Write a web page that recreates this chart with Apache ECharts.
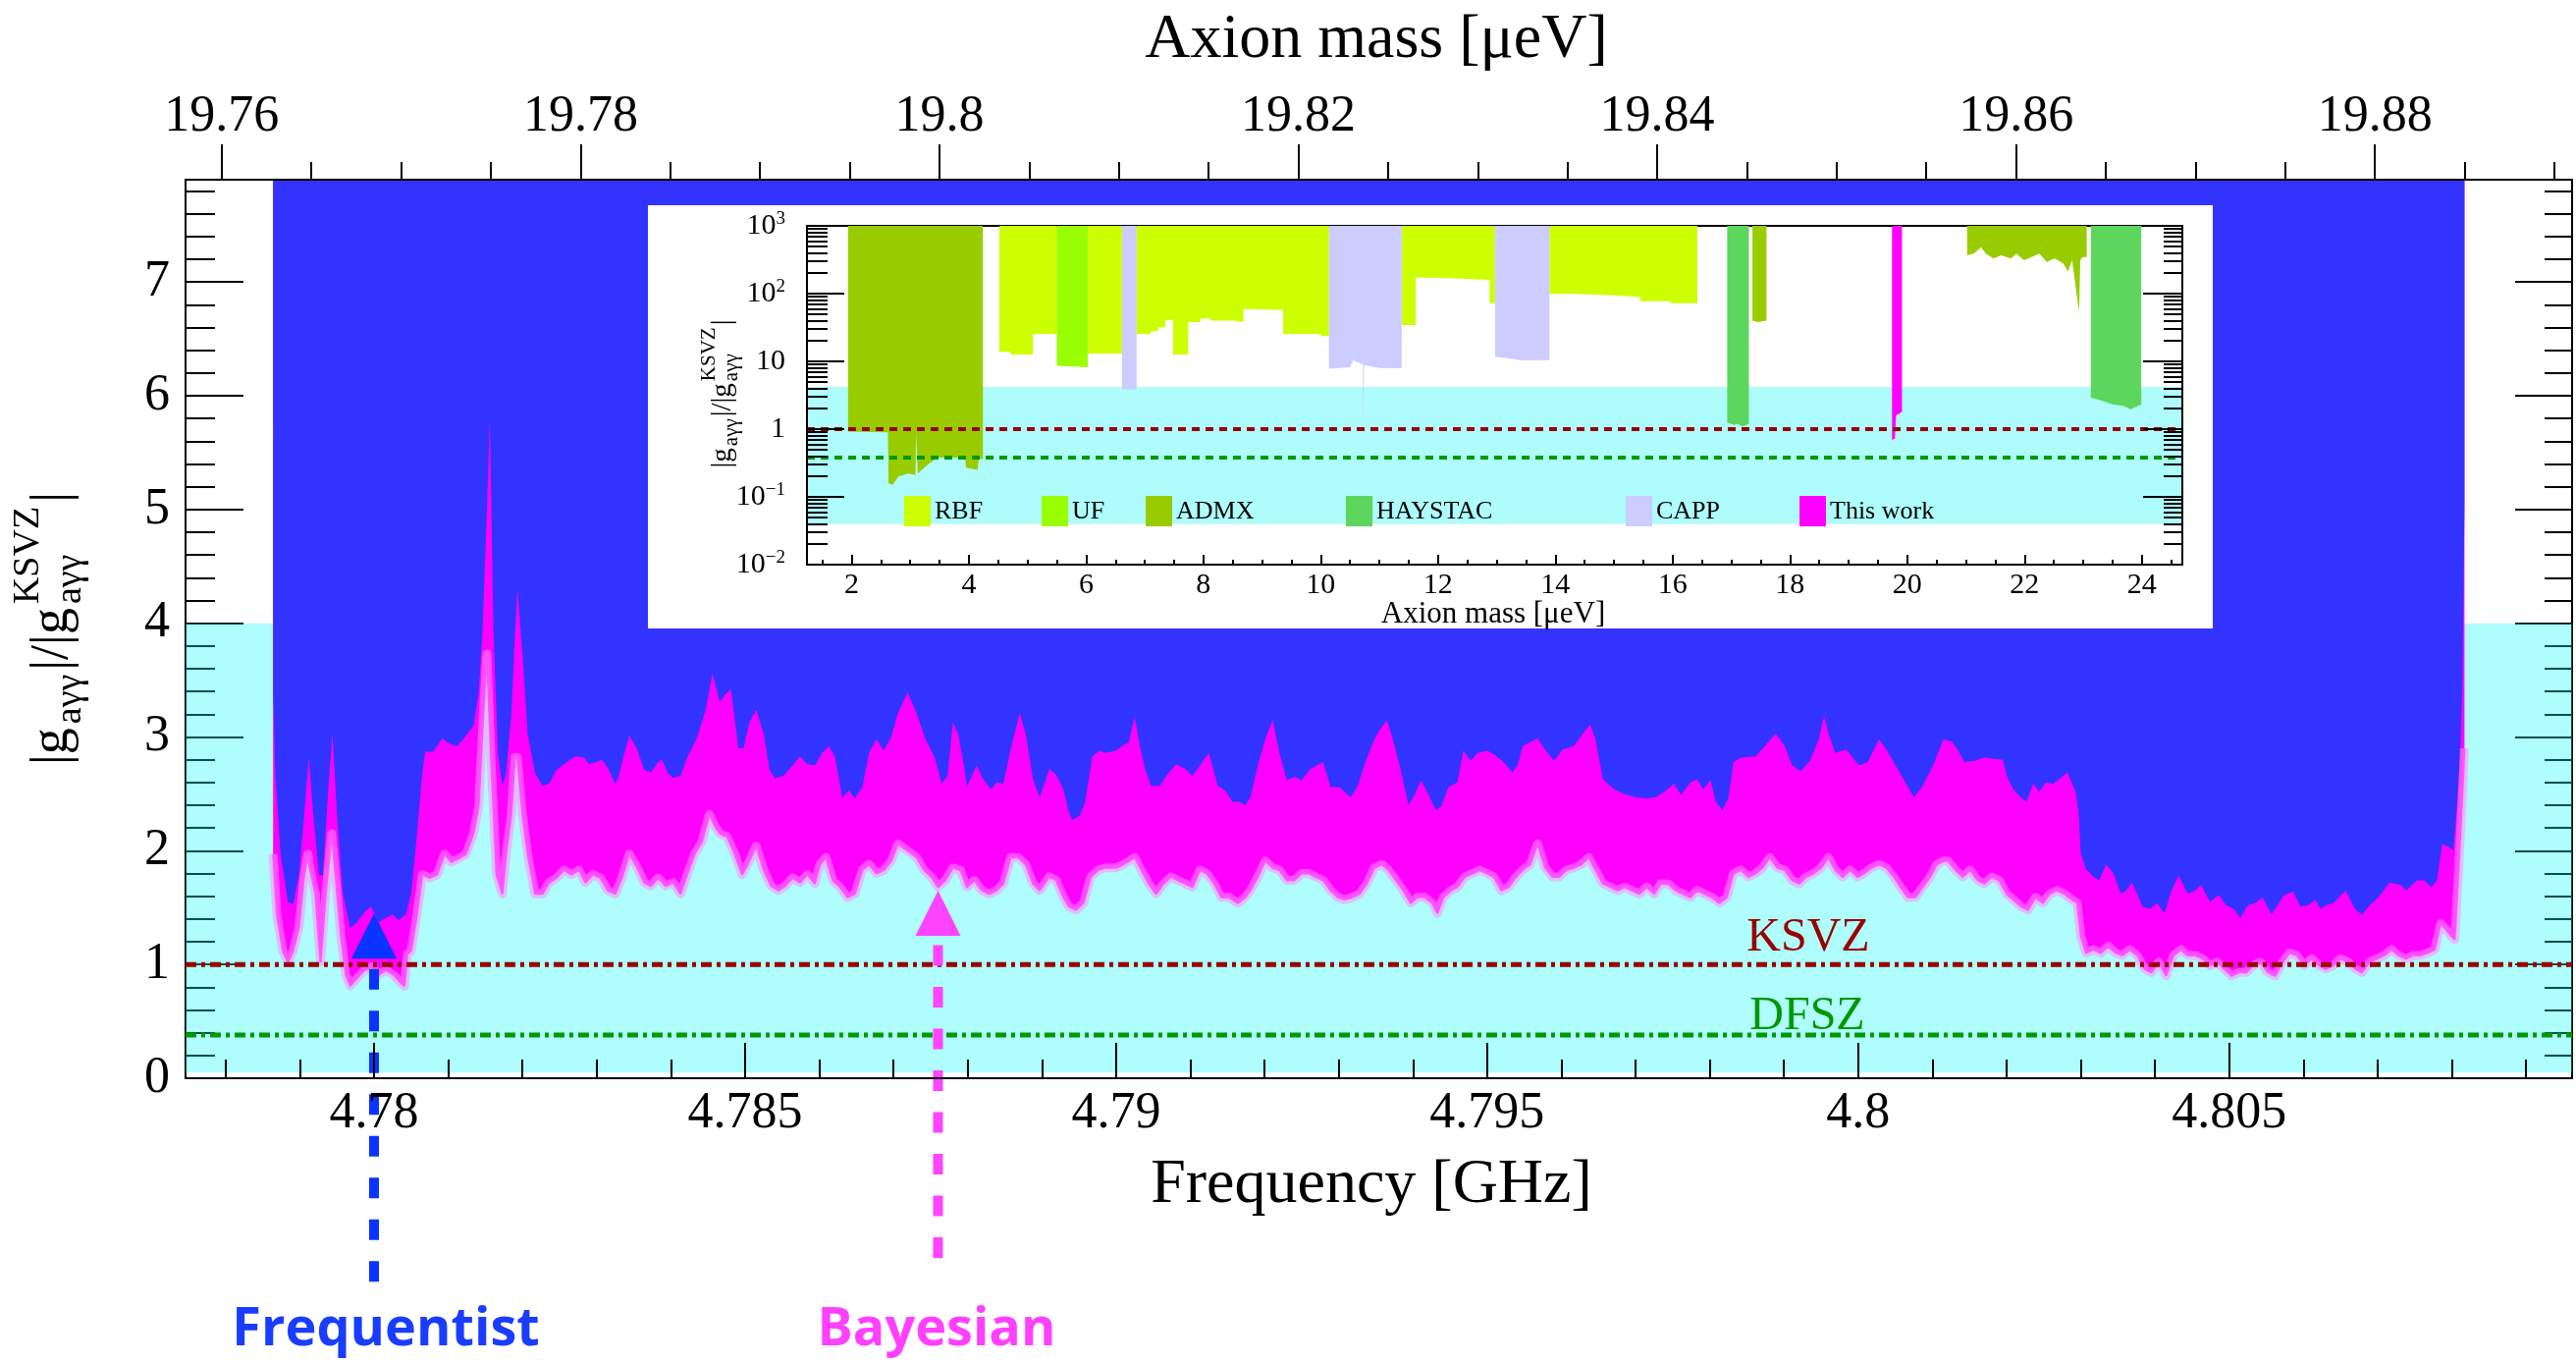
<!DOCTYPE html>
<html>
<head>
<meta charset="utf-8">
<script src="https://cdn.jsdelivr.net/npm/echarts@6/dist/echarts.min.js"></script>
<style>
html,body{margin:0;padding:0;background:#fff;}
#chart{width:2624px;height:1388px;}
</style>
</head>
<body>
<div id="chart"></div>
<script>
// ---------- axes ----------
const H_UEV_PER_GHZ = 4.135667;          // axion mass [μeV] per photon frequency [GHz]
const FREQ_MIN = 4.77746, FREQ_MAX = 4.80962;
const G_MAX = 7.9;
const freqTicks = [4.78, 4.785, 4.79, 4.795, 4.8, 4.805];
const massTicks = [19.76, 19.78, 19.80, 19.82, 19.84, 19.86, 19.88];
const gTicks = [0, 1, 2, 3, 4, 5, 6, 7];
const KSVZ = 1.0, DFSZ = 0.38;

// ---------- exclusion limits of this scan, |g|/|g_KSVZ| vs frequency [GHz] ----------
// frequentist limit: lower edge of the blue excluded region
const frequentistLimit = [
[4.77864,3.38],[4.77867,2.68],[4.77874,1.97],[4.77884,1.55],[4.77891,1.53],[4.77899,1.79],[4.77906,2.32],[4.77912,2.82],[4.77918,2.32],[4.77926,1.79],
[4.77931,1.78],[4.77938,2.50],[4.77944,3.03],[4.77950,2.32],[4.77958,1.62],[4.77968,1.32],[4.77977,1.37],[4.77987,1.46],[4.77996,1.51],[4.78006,1.37],
[4.78016,1.41],[4.78025,1.44],[4.78033,1.39],[4.78043,1.44],[4.78050,1.62],[4.78058,2.15],[4.78065,2.68],[4.78069,2.87],[4.78080,2.87],[4.78092,2.99],
[4.78102,2.94],[4.78112,2.92],[4.78124,3.01],[4.78134,3.10],[4.78141,3.38],[4.78146,3.91],[4.78152,4.97],[4.78156,5.79],[4.78161,3.91],[4.78167,2.85],
[4.78173,2.57],[4.78178,2.68],[4.78185,3.20],[4.78190,3.91],[4.78193,4.30],[4.78200,3.73],[4.78207,3.03],[4.78217,2.68],[4.78227,2.57],[4.78236,2.59],
[4.78246,2.71],[4.78256,2.76],[4.78271,2.83],[4.78283,2.82],[4.78290,2.76],[4.78300,2.78],[4.78307,2.80],[4.78315,2.73],[4.78325,2.59],[4.78329,2.64],
[4.78337,2.85],[4.78344,3.01],[4.78354,2.90],[4.78364,2.71],[4.78373,2.69],[4.78383,2.78],[4.78388,2.80],[4.78396,2.68],[4.78403,2.64],[4.78413,2.66],
[4.78422,2.82],[4.78435,2.99],[4.78447,3.24],[4.78456,3.56],[4.78466,3.31],[4.78474,3.38],[4.78481,3.42],[4.78491,2.90],[4.78498,2.90],[4.78506,3.13],
[4.78515,3.24],[4.78525,3.03],[4.78533,2.71],[4.78540,2.64],[4.78552,2.66],[4.78564,2.75],[4.78574,2.83],[4.78584,2.76],
[4.78594,2.75],[4.78604,2.86],[4.78613,2.92],[4.78621,2.83],[4.78631,2.47],[4.78640,2.53],[4.78648,2.46],[4.78658,2.56],[4.78667,2.86],[4.78677,2.98],
[4.78687,2.88],[4.78697,3.00],[4.78706,3.21],[4.78719,3.39],[4.78731,3.21],[4.78743,2.98],[4.78755,2.83],[4.78765,2.59],[4.78773,2.66],[4.78780,3.13],
[4.78787,3.03],[4.78795,2.75],[4.78799,2.56],[4.78812,2.75],[4.78821,2.63],[4.78831,2.54],[4.78839,2.60],[4.78848,2.59],[4.78858,2.89],[4.78870,3.21],
[4.78878,3.03],[4.78888,2.63],[4.78897,2.47],[4.78910,2.72],[4.78919,2.67],[4.78929,2.54],[4.78936,2.34],[4.78941,2.27],[4.78951,2.31],[4.78958,2.42],
[4.78968,2.83],[4.78978,2.88],[4.78985,2.86],[4.79000,2.88],[4.79010,2.93],[4.79017,2.95],[4.79025,3.18],[4.79032,2.92],[4.79039,2.72],[4.79047,2.57],
[4.79059,2.57],[4.79069,2.67],[4.79081,2.76],[4.79093,2.72],[4.79103,2.66],[4.79113,2.75],[4.79125,2.86],[4.79137,2.57],[4.79147,2.53],[4.79157,2.43],
[4.79166,2.43],[4.79174,2.40],[4.79181,2.47],[4.79191,2.75],[4.79201,2.98],[4.79211,3.15],[4.79220,2.86],[4.79230,2.62],[4.79240,2.65],[4.79250,2.62],
[4.79262,2.72],[4.79279,2.78],[4.79289,2.56],[4.79301,2.56],[4.79316,2.47],[4.79325,2.56],[4.79335,2.76],
[4.79348,2.98],[4.79355,3.06],[4.79365,3.15],[4.79372,3.00],[4.79382,2.75],[4.79394,2.40],[4.79402,2.49],[4.79411,2.62],[4.79421,2.49],[4.79431,2.36],
[4.79438,2.39],[4.79448,2.56],[4.79460,2.60],[4.79468,2.88],[4.79478,2.79],[4.79487,2.86],[4.79500,2.88],[4.79509,2.85],[4.79522,2.78],[4.79534,2.69],
[4.79541,2.75],[4.79548,2.92],[4.79568,2.99],[4.79578,2.89],[4.79590,2.79],[4.79602,2.89],[4.79617,2.92],[4.79629,3.03],[4.79639,3.11],[4.79646,2.98],
[4.79656,2.63],[4.79671,2.54],[4.79685,2.50],[4.79700,2.47],[4.79715,2.46],[4.79727,2.47],[4.79739,2.52],[4.79752,2.59],[4.79761,2.49],[4.79774,2.60],
[4.79783,2.63],[4.79791,2.54],[4.79801,2.62],[4.79808,2.43],[4.79817,2.36],[4.79825,2.46],[4.79832,2.78],[4.79842,2.82],[4.79862,2.83],[4.79874,2.92],
[4.79889,3.03],[4.79901,2.92],[4.79911,2.75],[4.79923,2.70],[4.79935,2.79],[4.79947,2.98],[4.79954,3.19],[4.79960,3.03],[4.79969,2.86],[4.79984,2.89],
[4.80001,2.75],[4.80013,2.78],[4.80028,2.98],[4.80038,2.89],[4.80053,2.72],[4.80062,2.62],[4.80075,2.47],[4.80087,2.57],[4.80101,2.75],[4.80115,2.98],
[4.80126,2.96],[4.80134,2.89],[4.80143,2.78],[4.80156,2.79],[4.80170,2.82],[4.80195,2.80],[4.80200,2.66],[4.80209,2.54],[4.80219,2.47],[4.80227,2.43],
[4.80236,2.59],[4.80244,2.52],[4.80253,2.60],[4.80263,2.59],[4.80271,2.63],[4.80282,2.69],[4.80293,2.52],[4.80297,2.34],[4.80300,1.97],[4.80307,1.84],
[4.80317,1.77],[4.80325,1.74],[4.80334,1.88],[4.80344,1.80],[4.80354,1.62],[4.80361,1.65],[4.80369,1.72],[4.80376,1.62],[4.80383,1.51],[4.80393,1.49],
[4.80403,1.54],[4.80413,1.45],[4.80422,1.65],[4.80432,1.78],[4.80444,1.62],[4.80454,1.65],[4.80462,1.70],[4.80474,1.55],[4.80486,1.61],[4.80496,1.52],
[4.80506,1.49],[4.80515,1.41],[4.80525,1.52],[4.80535,1.54],[4.80545,1.59],[4.80557,1.44],[4.80574,1.61],[4.80586,1.64],[4.80596,1.51],[4.80606,1.52],
[4.80616,1.57],[4.80623,1.49],[4.80630,1.52],[4.80640,1.54],[4.80657,1.65],[4.80670,1.48],[4.80679,1.44],[4.80689,1.52],[4.80701,1.59],[4.80716,1.72],
[4.80731,1.70],[4.80738,1.65],[4.80753,1.74],[4.80763,1.74],[4.80772,1.68],[4.80780,1.74],[4.80787,2.06],[4.80797,2.03],[4.80802,2.00],[4.80807,2.40],
[4.80811,2.78],[4.80814,3.41],[4.80817,5.05]
];
// Bayesian limit: lower edge of the magenta band
const bayesianLimit = [
[4.77864,1.97],[4.77869,1.44],[4.77877,1.12],[4.77884,1.02],[4.77891,1.12],[4.77899,1.33],[4.77906,1.79],[4.77911,1.97],[4.77913,1.86],[4.77921,1.62],
[4.77928,1.02],[4.77935,1.62],[4.77943,2.15],[4.77948,1.79],[4.77955,1.27],[4.77962,0.91],[4.77968,0.81],[4.77977,0.88],[4.77987,0.95],[4.77997,0.98],
[4.78006,0.91],[4.78016,0.95],[4.78026,0.91],[4.78036,0.84],[4.78041,0.81],[4.78045,1.09],[4.78050,1.12],[4.78058,1.44],[4.78065,1.79],[4.78075,1.76],
[4.78085,1.79],[4.78095,1.97],[4.78104,1.90],[4.78114,1.93],[4.78124,1.97],[4.78134,2.15],[4.78141,2.39],[4.78146,3.03],[4.78152,3.73],[4.78158,2.75],
[4.78165,1.79],[4.78173,1.62],[4.78178,1.97],[4.78185,2.32],[4.78190,2.82],[4.78193,2.82],[4.78200,2.32],[4.78207,1.97],[4.78217,1.62],[4.78227,1.62],
[4.78236,1.72],[4.78246,1.76],[4.78256,1.83],[4.78266,1.79],[4.78276,1.83],[4.78285,1.72],[4.78295,1.79],[4.78305,1.76],[4.78315,1.65],[4.78325,1.62],
[4.78334,1.76],[4.78344,1.97],[4.78354,1.86],[4.78364,1.72],[4.78373,1.69],[4.78383,1.76],[4.78393,1.69],[4.78403,1.72],[4.78413,1.62],[4.78422,1.79],
[4.78432,1.97],[4.78442,2.08],[4.78452,2.32],[4.78459,2.22],[4.78466,2.15],[4.78476,2.12],[4.78486,1.97],[4.78496,1.79],[4.78505,1.90],[4.78515,2.04],
[4.78525,1.83],[4.78535,1.69],[4.78545,1.65],[4.78554,1.69],[4.78564,1.76],[4.78574,1.72],[4.78584,1.79],
[4.78594,1.71],[4.78601,1.88],[4.78609,1.94],[4.78618,1.74],[4.78628,1.68],[4.78638,1.59],[4.78648,1.62],[4.78658,1.83],[4.78667,1.88],[4.78677,1.80],
[4.78687,1.83],[4.78697,1.91],[4.78706,2.06],[4.78719,2.00],[4.78731,1.94],[4.78741,1.83],[4.78751,1.77],[4.78760,1.68],[4.78770,1.74],[4.78780,1.85],
[4.78790,1.83],[4.78799,1.68],[4.78809,1.74],[4.78819,1.65],[4.78829,1.62],[4.78839,1.65],[4.78848,1.71],[4.78858,1.94],[4.78868,1.94],[4.78878,1.88],
[4.78888,1.71],[4.78897,1.65],[4.78910,1.77],[4.78919,1.74],[4.78929,1.59],[4.78936,1.51],[4.78946,1.48],[4.78956,1.54],[4.78966,1.77],[4.78976,1.83],
[4.78985,1.85],[4.79000,1.85],[4.79010,1.88],[4.79025,1.94],[4.79034,1.83],[4.79044,1.71],[4.79054,1.62],[4.79064,1.71],[4.79074,1.77],[4.79083,1.74],
[4.79093,1.71],[4.79103,1.68],[4.79113,1.83],[4.79122,1.80],[4.79132,1.71],[4.79142,1.59],[4.79152,1.59],[4.79164,1.54],[4.79174,1.59],[4.79181,1.65],
[4.79191,1.77],[4.79201,1.91],[4.79211,1.85],[4.79220,1.83],[4.79230,1.74],[4.79240,1.74],[4.79250,1.80],[4.79260,1.80],[4.79269,1.77],[4.79279,1.74],
[4.79289,1.65],[4.79299,1.59],[4.79308,1.57],[4.79318,1.59],[4.79328,1.62],[4.79338,1.71],
[4.79348,1.85],[4.79358,1.88],[4.79367,1.83],[4.79377,1.74],[4.79387,1.65],[4.79397,1.54],[4.79406,1.59],[4.79416,1.59],[4.79426,1.54],[4.79433,1.45],
[4.79441,1.59],[4.79451,1.65],[4.79460,1.68],[4.79470,1.77],[4.79480,1.80],[4.79490,1.83],[4.79500,1.80],[4.79509,1.77],[4.79519,1.65],[4.79529,1.68],
[4.79539,1.77],[4.79548,1.83],[4.79558,1.88],[4.79568,2.06],[4.79578,1.85],[4.79588,1.77],[4.79597,1.77],[4.79607,1.83],[4.79617,1.85],[4.79627,1.88],
[4.79637,1.94],[4.79646,1.83],[4.79656,1.71],[4.79666,1.68],[4.79676,1.65],[4.79685,1.68],[4.79695,1.65],[4.79705,1.62],[4.79715,1.68],[4.79725,1.62],
[4.79734,1.71],[4.79744,1.71],[4.79754,1.65],[4.79764,1.62],[4.79774,1.59],[4.79783,1.65],[4.79793,1.62],[4.79803,1.59],[4.79813,1.54],[4.79823,1.59],
[4.79832,1.80],[4.79842,1.83],[4.79852,1.77],[4.79862,1.80],[4.79871,1.85],[4.79881,1.94],[4.79891,1.85],[4.79901,1.83],[4.79911,1.74],[4.79920,1.71],
[4.79930,1.77],[4.79940,1.80],[4.79950,1.85],[4.79960,1.94],[4.79969,1.83],[4.79979,1.77],[4.79989,1.83],[4.79999,1.77],[4.80008,1.80],[4.80018,1.85],
[4.80028,1.88],[4.80038,1.85],[4.80048,1.77],[4.80057,1.68],[4.80067,1.59],[4.80077,1.59],[4.80087,1.68],[4.80097,1.77],[4.80106,1.88],[4.80115,1.91],
[4.80121,1.91],[4.80131,1.83],[4.80141,1.77],[4.80151,1.83],[4.80161,1.74],[4.80170,1.71],[4.80180,1.77],[4.80190,1.74],[4.80200,1.62],[4.80209,1.57],
[4.80219,1.51],[4.80229,1.48],[4.80239,1.59],[4.80249,1.54],[4.80258,1.62],[4.80268,1.65],[4.80278,1.62],[4.80288,1.57],[4.80295,1.54],[4.80300,1.25],
[4.80307,1.10],[4.80317,1.13],[4.80327,1.10],[4.80337,1.16],[4.80347,1.10],[4.80356,1.08],[4.80366,1.13],[4.80376,1.08],[4.80386,0.96],[4.80395,0.93],
[4.80405,1.02],[4.80415,0.90],[4.80425,1.08],[4.80435,1.13],[4.80444,1.08],[4.80454,1.08],[4.80464,1.05],[4.80474,0.99],[4.80484,1.02],[4.80493,0.96],
[4.80503,0.90],[4.80513,0.93],[4.80523,0.93],[4.80532,0.99],[4.80542,1.02],[4.80552,0.93],[4.80562,0.90],[4.80572,1.02],[4.80581,1.10],[4.80591,1.08],
[4.80601,0.99],[4.80611,1.05],[4.80621,0.99],[4.80630,0.96],[4.80640,0.99],[4.80650,1.05],[4.80660,1.02],[4.80670,0.96],[4.80679,0.93],[4.80689,1.02],
[4.80699,1.05],[4.80709,1.08],[4.80719,1.13],[4.80728,1.08],[4.80738,1.05],[4.80748,1.08],[4.80758,1.08],[4.80767,1.10],[4.80777,1.13],[4.80785,1.36],
[4.80792,1.31],[4.80799,1.25],[4.80804,1.22],[4.80809,1.83],[4.80812,2.20],[4.80815,2.60],[4.80817,2.90]
];
// band of plausible axion models shaded behind the limits
const modelBand = [0.05, 4.0];

// arrows marking the two limits
const arrowMarks = [
  { name: 'Frequentist', freq: 4.7800, head: 1.25, shaftTop: 0.96, shaftBottom: -1.80, color: '#0a33ff' },
  { name: 'Bayesian',    freq: 4.7876, head: 1.45, shaftTop: 1.17, shaftBottom: -1.60, color: '#ff44ff' }
];

// ---------- inset: world exclusion limits, |g|/|g_KSVZ| vs axion mass [μeV] ----------
const INSET_MASS_MIN = 1.24, INSET_MASS_MAX = 24.69;
const insetMassTicks = [2, 4, 6, 8, 10, 12, 14, 16, 18, 20, 22, 24];
const insetLogTicks = [0.01, 0.1, 1, 10, 100, 1000];
const insetBand = [0.04, 4.2];
const rbfBlocks = [
  [[4.52,13.8],[4.71,13.8],[4.71,12.6],[5.09,12.6],[5.09,25.5],[5.50,25.5]],
  [[6.03,13.1],[6.61,13.1]],
  [[6.86,25.5],[7.10,25.5],[7.10,28],[7.23,28],[7.23,32],[7.35,32],[7.35,41],[7.48,41],[7.48,12.6],[7.74,12.6],[7.74,38],[7.95,38],
   [7.95,43],[8.12,43],[8.12,40],[8.51,40],[8.51,38],[8.68,38],[8.68,59],[8.80,59],[8.80,57],[9.36,57],[9.36,25.5],[10.0,25.5],[10.0,23.6],[10.14,23.6]],
  [[11.38,34.5],[11.62,34.5],[11.62,174],[12.20,169],[12.88,160],[12.88,72],[12.97,72]],
  [[13.90,99],[14.33,99],[14.33,94],[15.02,94],[15.02,89],[15.45,89],[15.45,77],[15.97,77],[15.97,72],[16.42,72]]
];
const ufBlocks = [
  [[5.50,8.6],[5.80,8.4],[6.03,8.2]]
];
const admxBlocks = [
  [[1.94,0.92],[2.62,0.90],[2.63,0.16],[2.70,0.15],[2.80,0.20],[2.96,0.22],[3.09,0.21],[3.10,0.90],[3.12,0.90],[3.13,0.22],
   [3.30,0.30],[3.47,0.38],[3.94,0.38],[3.95,0.27],[4.15,0.25],[4.17,0.36],[4.24,0.36]],
  [[17.36,40],[17.45,38],[17.60,40]],
  [[21.02,367],[21.13,388],[21.26,485],[21.34,388],[21.47,329],[21.60,367],[21.77,329],[21.86,388],[21.99,311],[22.12,348],
   [22.25,388],[22.38,294],[22.51,329],[22.66,278],[22.74,211],[22.81,311],[22.90,82],[22.93,55],[22.95,311],[22.99,348],[23.06,348]]
];
const haystacBlocks = [
  [[16.93,1.25],[17.05,1.15],[17.10,1.20],[17.20,1.10],[17.30,1.20]],
  [[23.13,2.9],[23.33,2.6],[23.51,2.3],[23.68,2.2],[23.81,1.97],[23.94,2.2],[23.99,2.3]]
];
const cappBlocks = [
  [[6.61,3.85],[6.86,3.85]],
  [[10.14,7.8],[10.50,8.2],[10.55,10.4],[10.65,9.5],[10.72,9.0],[10.72,1.08],[10.74,1.08],[10.74,8.8],[11.00,8.0],[11.38,7.9]],
  [[12.97,11.7],[13.30,10.8],[13.40,10.4],[13.90,10.4]]
];
const thisWorkBlocks = [
  [[19.74,0.69],[19.79,0.72],[19.81,1.6],[19.91,1.8]]
];
const experiments = [
  { name: 'RBF',       color: '#ccff00', blocks: rbfBlocks,      legendX: 921 },
  { name: 'UF',        color: '#99ff00', blocks: ufBlocks,       legendX: 1061 },
  { name: 'ADMX',      color: '#99cc00', blocks: admxBlocks,     legendX: 1167 },
  { name: 'HAYSTAC',   color: '#5cd65c', blocks: haystacBlocks,  legendX: 1371 },
  { name: 'CAPP',      color: '#ccccff', blocks: cappBlocks,     legendX: 1656 },
  { name: 'This work', color: '#ff00ff', blocks: thisWorkBlocks, legendX: 1833 }
];

// ---------- minor tick positions ----------
const freqMinor = [];
for (let k = 4778; k <= 4809; k++) if (k % 5) freqMinor.push(k / 1000);
const massMinor = [];
for (let k = 19760; k <= 19890; k += 5) if (k % 20) massMinor.push(k / 1000);
const gMinor = [];
for (let k = 1; k < 40; k++) if (k % 5) gMinor.push(+(k * 0.2).toFixed(1));
const insetMassMinor = [];
for (let k = 3; k <= 49; k++) { const m = k / 2; if (m % 2) insetMassMinor.push(m); }
const insetLogMinor = [];
for (let d = -2; d <= 2; d++) for (let k = 2; k <= 9; k++) insetLogMinor.push(+(k * Math.pow(10, d)).toPrecision(3));

// ---------- styling helpers ----------
const SERIF = '"Liberation Serif", "Times New Roman", serif';
const BLACK = '#000';

function xAxisDef(o) {
  return {
    type: 'value', splitLine: { show: false },
    gridIndex: o.grid, position: o.pos, min: o.min, max: o.max, z: o.z, zlevel: o.zlevel || 0,
    axisLine: { show: !!o.line, onZero: false, lineStyle: { color: BLACK, width: 2 } },
    axisTick: { show: !!o.ticks, inside: o.inside, length: o.len, customValues: o.ticks, lineStyle: { color: BLACK, width: 2 } },
    axisLabel: o.labels ? { show: true, customValues: o.labels, formatter: o.fmt, fontFamily: SERIF, fontSize: o.fs, color: BLACK, margin: o.margin } : { show: false }
  };
}
function yAxisDef(o) {
  return {
    type: o.type || 'value', logBase: 10,
    gridIndex: o.grid, position: o.pos, min: o.min, max: o.max, z: o.z, zlevel: o.zlevel || 0,
    splitLine: { show: false },
    axisLine: { show: !!o.line, onZero: false, lineStyle: { color: BLACK, width: 2 } },
    axisTick: { show: true, inside: true, length: o.len, customValues: o.ticks, lineStyle: { color: BLACK, width: 2 } },
    axisLabel: o.labels ? Object.assign({ show: true, customValues: o.labels, formatter: o.fmt, fontFamily: SERIF, fontSize: o.fs, color: BLACK, margin: o.margin }, o.labelExtra || {}) : { show: false }
  };
}

const trimNum = d => v => String(parseFloat(v.toFixed(d)));

// horizontal band drawn through the axis scales
function bandSeries(o) {
  return {
    type: 'custom', xAxisIndex: o.x, yAxisIndex: o.y, z: o.z, zlevel: o.zlevel || 0, silent: true,
    encode: { x: [0, 1], y: [2, 3] },
    data: [[o.x0, o.x1, o.y0, o.y1]],
    renderItem: (params, api) => {
      const a = api.coord([api.value(0), api.value(3)]);
      const b = api.coord([api.value(1), api.value(2)]);
      return { type: 'rect', shape: { x: a[0], y: a[1], width: b[0] - a[0], height: b[1] - a[1] }, style: { fill: o.color } };
    }
  };
}
function hLine(o) {
  return {
    type: 'line', xAxisIndex: o.x, yAxisIndex: o.y, z: o.z, zlevel: o.zlevel || 0, silent: true,
    symbol: 'none', data: [[o.x0, o.v], [o.x1, o.v]],
    lineStyle: { color: o.color, width: o.width, type: o.dash }
  };
}
function fillUp(o) {
  return {
    type: 'line', xAxisIndex: o.x, yAxisIndex: o.y, z: o.z, zlevel: o.zlevel || 0, silent: true,
    symbol: 'none', data: o.data,
    lineStyle: { width: o.lineWidth || 0, color: o.lineColor || o.color, opacity: o.lineWidth ? 1 : 0 },
    areaStyle: { color: o.color, opacity: 1, origin: 'end' }
  };
}

// ---------- formula text (sub/superscripts) laid out along a rotated baseline ----------
const measureCtx = document.createElement('canvas').getContext('2d');
function textWidth(t, size) { measureCtx.font = size + 'px ' + SERIF; return measureCtx.measureText(t).width; }
function formulaGroup(pieces, gap, baseX, centerY, zlevel) {
  const placed = [];
  let x = 0, i = 0;
  while (i < pieces.length) {
    const p = pieces[i];
    if (p.stack) {
      const q = pieces[i + 1];
      placed.push(Object.assign({ x }, p), Object.assign({ x }, q));
      x += Math.max(textWidth(p.t, p.size), textWidth(q.t, q.size)) + gap; i += 2;
    } else {
      placed.push(Object.assign({ x }, p));
      x += textWidth(p.t, p.size) + gap; i += 1;
    }
  }
  const W = x - gap;
  return {
    type: 'group', x: baseX, y: centerY, rotation: Math.PI / 2, zlevel: zlevel || 0, z: 10,
    children: placed.map(p => ({
      type: 'text', x: p.x - W / 2, y: p.dy - 0.34 * p.size, zlevel: zlevel || 0, z: 10,
      style: { text: p.t, font: p.size + 'px ' + SERIF, fill: BLACK, align: 'left', verticalAlign: 'middle', textAlign: 'left', textVerticalAlign: 'middle' }
    }))
  };
}
function label(text, x, y, font, color, zlevel, align) {
  return {
    type: 'text', x, y, zlevel: zlevel || 0, z: 10, silent: true,
    style: { text, font, fill: color, align: align || 'center', verticalAlign: 'middle', textAlign: align || 'center', textVerticalAlign: 'middle' }
  };
}

// ---------- chart ----------
const chart = echarts.init(document.getElementById('chart'), null, { renderer: 'canvas', width: 2624, height: 1388 });

const MAIN = { left: 189, right: 4, top: 183, bottom: 290 };
const INSET = { left: 822, right: 401, top: 230, bottom: 813 };

const xAxes = [
  // main: frequency (bottom) and axion mass (top)
  xAxisDef({ grid: 0, pos: 'bottom', min: FREQ_MIN, max: FREQ_MAX, z: 10, line: true, inside: true, len: 36, ticks: freqTicks, labels: freqTicks, fmt: trimNum(3), fs: 52, margin: 10 }),
  xAxisDef({ grid: 0, pos: 'bottom', min: FREQ_MIN, max: FREQ_MAX, z: 10, inside: true, len: 19, ticks: freqMinor }),
  xAxisDef({ grid: 0, pos: 'top', min: FREQ_MIN * H_UEV_PER_GHZ, max: FREQ_MAX * H_UEV_PER_GHZ, z: 10, line: true, inside: false, len: 36, ticks: massTicks, labels: massTicks, fmt: trimNum(2), fs: 52, margin: 38 }),
  xAxisDef({ grid: 0, pos: 'top', min: FREQ_MIN * H_UEV_PER_GHZ, max: FREQ_MAX * H_UEV_PER_GHZ, z: 10, inside: false, len: 18, ticks: massMinor }),
  // inset: axion mass
  xAxisDef({ grid: 1, pos: 'bottom', min: INSET_MASS_MIN, max: INSET_MASS_MAX, z: 5, zlevel: 1, line: true, inside: true, len: 10, ticks: insetMassTicks, labels: insetMassTicks, fmt: v => String(Math.round(v)), fs: 30, margin: 6 }),
  xAxisDef({ grid: 1, pos: 'bottom', min: INSET_MASS_MIN, max: INSET_MASS_MAX, z: 5, zlevel: 1, inside: true, len: 5, ticks: insetMassMinor }),
  xAxisDef({ grid: 1, pos: 'top', min: INSET_MASS_MIN, max: INSET_MASS_MAX, z: 1, zlevel: 1, line: true })
];

const logFmt = v => {
  const e = Math.round(Math.log10(v));
  if (e === 0) return '{b|1}';
  if (e === 1) return '{b|10}';
  return '{b|10}{s|' + (e < 0 ? '\u2212' + (-e) : e) + '}';
};
const logRich = { rich: { b: { fontFamily: SERIF, fontSize: 30, color: BLACK }, s: { fontFamily: SERIF, fontSize: 19, color: BLACK, verticalAlign: 'top', padding: [0, 0, 14, 0] } } };

const yAxes = [
  yAxisDef({ grid: 0, pos: 'left', min: 0, max: G_MAX, z: 0, line: true, len: 59, ticks: gTicks, labels: gTicks, fmt: v => String(Math.round(v)), fs: 52, margin: 16 }),
  yAxisDef({ grid: 0, pos: 'left', min: 0, max: G_MAX, z: 0, len: 30, ticks: gMinor }),
  yAxisDef({ grid: 0, pos: 'right', min: 0, max: G_MAX, z: 0, line: true, len: 58, ticks: gTicks }),
  yAxisDef({ grid: 0, pos: 'right', min: 0, max: G_MAX, z: 0, len: 28, ticks: gMinor }),
  yAxisDef({ type: 'log', grid: 1, pos: 'left', min: 0.01, max: 1000, z: 5, zlevel: 1, line: true, len: 38, ticks: insetLogTicks, labels: insetLogTicks, fmt: logFmt, margin: 22, labelExtra: logRich }),
  yAxisDef({ type: 'log', grid: 1, pos: 'left', min: 0.01, max: 1000, z: 5, zlevel: 1, len: 21, ticks: insetLogMinor }),
  yAxisDef({ type: 'log', grid: 1, pos: 'right', min: 0.01, max: 1000, z: 5, zlevel: 1, line: true, len: 40, ticks: insetLogTicks }),
  yAxisDef({ type: 'log', grid: 1, pos: 'right', min: 0.01, max: 1000, z: 5, zlevel: 1, len: 19, ticks: insetLogMinor })
];

const series = [
  // main panel
  bandSeries({ x: 0, y: 0, z: 1, x0: FREQ_MIN, x1: FREQ_MAX, y0: modelBand[0], y1: modelBand[1], color: 'rgba(0,248,248,0.315)' }),
  // soft pink fringe along the lower edge of the Bayesian band
  {
    type: 'line', xAxisIndex: 0, yAxisIndex: 0, z: 2, silent: true, symbol: 'none',
    data: bayesianLimit, lineStyle: { color: '#ff8cff', width: 9, opacity: 0.55, join: 'round' }
  },
  fillUp({ x: 0, y: 0, z: 2, data: bayesianLimit, color: '#ff00ff', lineWidth: 2, lineColor: '#ff55ff' }),
  fillUp({ x: 0, y: 0, z: 2, data: frequentistLimit, color: '#3333ff' }),
  hLine({ x: 0, y: 0, z: 4, x0: FREQ_MIN, x1: FREQ_MAX, v: KSVZ, color: '#990000', width: 5, dash: [11, 5, 4, 5] }),
  hLine({ x: 0, y: 0, z: 4, x0: FREQ_MIN, x1: FREQ_MAX, v: DFSZ, color: '#009900', width: 5, dash: [11, 5, 4, 5] })
];
arrowMarks.forEach(a => {
  series.push({
    type: 'line', xAxisIndex: 0, yAxisIndex: 0, z: 6, clip: false, silent: true, symbol: 'none',
    data: [[a.freq, a.shaftTop], [a.freq, a.shaftBottom]],
    lineStyle: { color: a.color, width: 10, type: [21, 21.5], cap: 'butt' }
  });
  series.push({
    type: 'scatter', xAxisIndex: 0, yAxisIndex: 0, z: 7, clip: false, silent: true,
    symbol: 'triangle', symbolSize: [46, 46], data: [[a.freq, a.head]],
    itemStyle: { color: a.color, opacity: 1 }
  });
});
// inset panel
series.push(bandSeries({ x: 4, y: 4, z: 1, zlevel: 1, x0: INSET_MASS_MIN, x1: INSET_MASS_MAX, y0: insetBand[0], y1: insetBand[1], color: '#aefcfc' }));
experiments.forEach(ex => ex.blocks.forEach(b => {
  series.push(fillUp({ x: 4, y: 4, z: 2, zlevel: 1, data: b, color: ex.color }));
}));
series.push(hLine({ x: 4, y: 4, z: 3, zlevel: 1, x0: INSET_MASS_MIN, x1: INSET_MASS_MAX, v: KSVZ, color: '#990000', width: 4, dash: [8, 6] }));
series.push(hLine({ x: 4, y: 4, z: 3, zlevel: 1, x0: INSET_MASS_MIN, x1: INSET_MASS_MAX, v: DFSZ, color: '#009900', width: 4, dash: [8, 6] }));

// ---------- text and inset decorations ----------
const graphics = [
  // inset background
  { type: 'rect', shape: { x: 660, y: 209, width: 1594, height: 431 }, style: { fill: '#fff' }, zlevel: 1, z: 0, silent: true },
  label('Axion mass [\u03bceV]', 1402, 41, '64px ' + SERIF, BLACK),
  label('Frequency [GHz]', 1397, 1207, '64px ' + SERIF, BLACK),
  label('KSVZ', 1842, 955, '48px ' + SERIF, '#990000'),
  label('DFSZ', 1841, 1035, '48px ' + SERIF, '#009900'),
  label('Frequentist', 393, 1355, 'bold 54px "Open Sans", "Noto Sans", sans-serif', '#1a3cff'),
  label('Bayesian', 954, 1355, 'bold 54px "Open Sans", "Noto Sans", sans-serif', '#ff40ff'),
  formulaGroup([
    { t: '|g', size: 54, dy: 0 }, { t: 'a\u03b3\u03b3', size: 38, dy: 13 },
    { t: '|/|g', size: 54, dy: 0 },
    { t: 'KSVZ', size: 38, dy: -30, stack: true }, { t: 'a\u03b3\u03b3', size: 38, dy: 13 },
    { t: '|', size: 54, dy: 0 }
  ], 4, 72, 640, 0),
  // inset labels
  label('Axion mass [\u03bceV]', 1521, 626, '31px ' + SERIF, BLACK, 1),
  formulaGroup([
    { t: '|g', size: 29, dy: 0 }, { t: 'a\u03b3\u03b3', size: 21, dy: 7 },
    { t: '|/|g', size: 29, dy: 0 },
    { t: 'KSVZ', size: 21, dy: -16, stack: true }, { t: 'a\u03b3\u03b3', size: 21, dy: 7 },
    { t: '|', size: 29, dy: 0 }
  ], 2, 746, 401, 1)
];
experiments.forEach(ex => {
  graphics.push({ type: 'rect', shape: { x: ex.legendX, y: 505, width: 27, height: 31 }, style: { fill: ex.color }, zlevel: 1, z: 6, silent: true });
  graphics.push(label(ex.name, ex.legendX + 31, 521, '26px ' + SERIF, BLACK, 1, 'left'));
});

chart.setOption({
  animation: false,
  backgroundColor: '#fff',
  grid: [
    Object.assign({ containLabel: false }, MAIN),
    Object.assign({ containLabel: false, zlevel: 1 }, INSET)
  ],
  xAxis: xAxes,
  yAxis: yAxes,
  series,
  graphic: { elements: graphics }
});
</script>
</body>
</html>
